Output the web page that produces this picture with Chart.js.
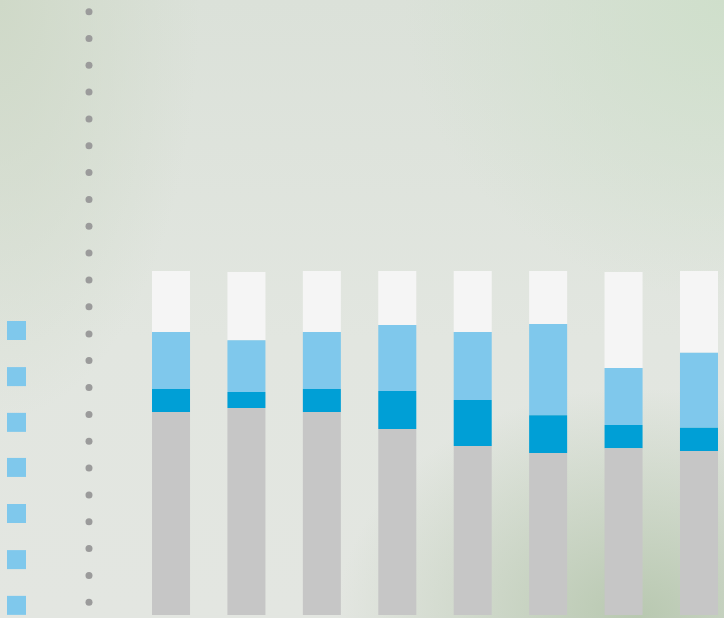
<!DOCTYPE html>
<html>
<head>
<meta charset="utf-8">
<script src="https://cdn.jsdelivr.net/npm/chart.js@4"></script>
<style>
    html, body {
        margin: 0;
        padding: 0;
    }
    body {
        width: 724px;
        height: 618px;
        overflow: hidden;
        position: relative;
        background:
            radial-gradient(ellipse 300px 230px at 88% 100%, rgba(184, 200, 176, 1) 0%, rgba(184, 200, 176, 0) 100%),
            radial-gradient(ellipse 320px 300px at 100% 0%, rgba(207, 223, 203, 1) 0%, rgba(207, 223, 203, 0) 100%),
            radial-gradient(ellipse 200px 420px at 0% 0%, rgba(207, 217, 200, 1) 0%, rgba(207, 217, 200, 0) 100%),
            linear-gradient(180deg, #dbe1d9 0%, #e2e6e0 55%, #e3e6e1 100%);
    }
    .layer {
        position: absolute;
        left: 0;
        top: 0;
    }
</style>
</head>
<body>
<div class="layer" style="width:740px;height:618px">
    <canvas id="barChart" width="740" height="618"></canvas>
</div>
<div class="layer" style="width:724px;height:618px">
    <canvas id="sideChart" width="724" height="618"></canvas>
</div>

<script>
    // categories (no labels shown in the picture)
    const categories = ['1', '2', '3', '4', '5', '6', '7', '8'];

    // stacked shares in percent, bottom to top
    const greyValues      = [59.0, 60.2, 59.0, 54.1, 49.1, 47.1, 48.5, 47.7];
    const darkBlueValues  = [ 6.7,  4.6,  6.7, 11.0, 13.4, 11.0,  6.7,  6.7];
    const lightBlueValues = [16.6, 15.1, 16.6, 19.2, 19.8, 26.5, 16.6, 21.8];
    const whiteValues     = [17.7, 19.8, 17.7, 15.7, 17.7, 15.4, 27.9, 23.8];

    // dotted vertical guide and the legend squares on the left (same value scale)
    const dotValues = [175.4, 167.6, 159.8, 152.0, 144.2, 136.4, 128.6, 120.8, 113.0, 105.2,
        97.4, 89.6, 81.7, 74.0, 66.1, 58.3, 50.5, 42.7, 34.9, 27.1, 19.3, 11.5, 3.7];
    const squareValues = [82.7, 69.3, 56.0, 42.9, 29.5, 16.1, 2.8];

    const yMax = 178.78;

    new Chart(document.getElementById('barChart'), {
        type: 'bar',
        data: {
            labels: categories,
            datasets: [
                { label: 'grey', data: greyValues, backgroundColor: '#c6c6c6' },
                { label: 'dark blue', data: darkBlueValues, backgroundColor: '#009fd6' },
                { label: 'light blue', data: lightBlueValues, backgroundColor: '#7fc8ec' },
                { label: 'white', data: whiteValues, backgroundColor: '#f5f5f5' }
            ]
        },
        options: {
            responsive: false,
            animation: false,
            devicePixelRatio: 1,
            layout: {
                autoPadding: false,
                padding: { left: 133.3, right: 3.3, top: 0, bottom: 3 }
            },
            datasets: {
                bar: {
                    categoryPercentage: 1,
                    barPercentage: 0.504,
                    borderWidth: 0
                }
            },
            scales: {
                x: { display: false, stacked: true },
                y: { display: false, stacked: true, min: 0, max: yMax }
            },
            plugins: {
                legend: { display: false },
                tooltip: { enabled: false }
            }
        }
    });

    // left side: legend squares (column 0) and dotted guide (column 1)
    new Chart(document.getElementById('sideChart'), {
        type: 'scatter',
        data: {
            datasets: [
                {
                    label: 'dots',
                    data: dotValues.map(v => ({ x: 1, y: v })),
                    pointRadius: 3.5,
                    pointBackgroundColor: '#9b9b9b',
                    pointBorderWidth: 0
                },
                {
                    label: 'squares',
                    data: squareValues.map(v => ({ x: 0, y: v })),
                    pointStyle: 'rect',
                    pointRadius: 13.44,
                    pointBackgroundColor: '#7fc8ec',
                    pointBorderWidth: 0
                }
            ]
        },
        options: {
            responsive: false,
            animation: false,
            devicePixelRatio: 1,
            layout: {
                autoPadding: false,
                padding: { left: 0, right: 0, top: 0, bottom: 3 }
            },
            datasets: {
                scatter: { clip: false }
            },
            scales: {
                x: { display: false, min: -0.2276, max: 9.759 },
                y: { display: false, min: 0, max: yMax }
            },
            plugins: {
                legend: { display: false },
                tooltip: { enabled: false }
            }
        }
    });
</script>
</body>
</html>
